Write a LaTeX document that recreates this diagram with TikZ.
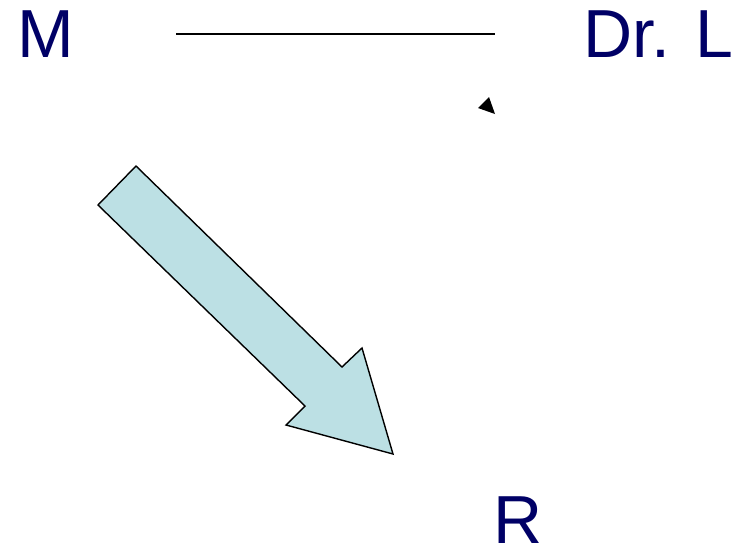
\documentclass[tikz,border=0pt]{standalone}
\usepackage{fontspec}
\setmainfont{Liberation Sans}
\definecolor{navy}{HTML}{000066}
\definecolor{arrowfill}{HTML}{BCE0E4}
\begin{document}
\begin{tikzpicture}[x=1pt,y=-1pt,
  lbl/.style={inner sep=0pt,anchor=base west,text=navy,font=\fontsize{68}{80}\selectfont},
  blockarrow/.style={draw=black,line width=1.4pt,fill=arrowfill,line join=miter},
  thinline/.style={draw=black,line width=1.1pt}]
\useasboundingbox (0,0) rectangle (733,547);
\node[lbl] (m) at (17,57) {M};
\node[lbl] (drl) at (583,57) {Dr. L};
\node[lbl] (r) at (493,543) {R};
\coordinate (l1) at (176,34);
\coordinate (l2) at (495,34);
\draw[thinline] (l1) -- (l2);
\fill[black] (478,108) -- (489,97) -- (495,114) -- cycle;
\draw[blockarrow] (136,166) -- (342,367) -- (362,348) -- (393,454) -- (286,425) -- (305,406) -- (98,205) -- cycle;
\end{tikzpicture}
\end{document}
